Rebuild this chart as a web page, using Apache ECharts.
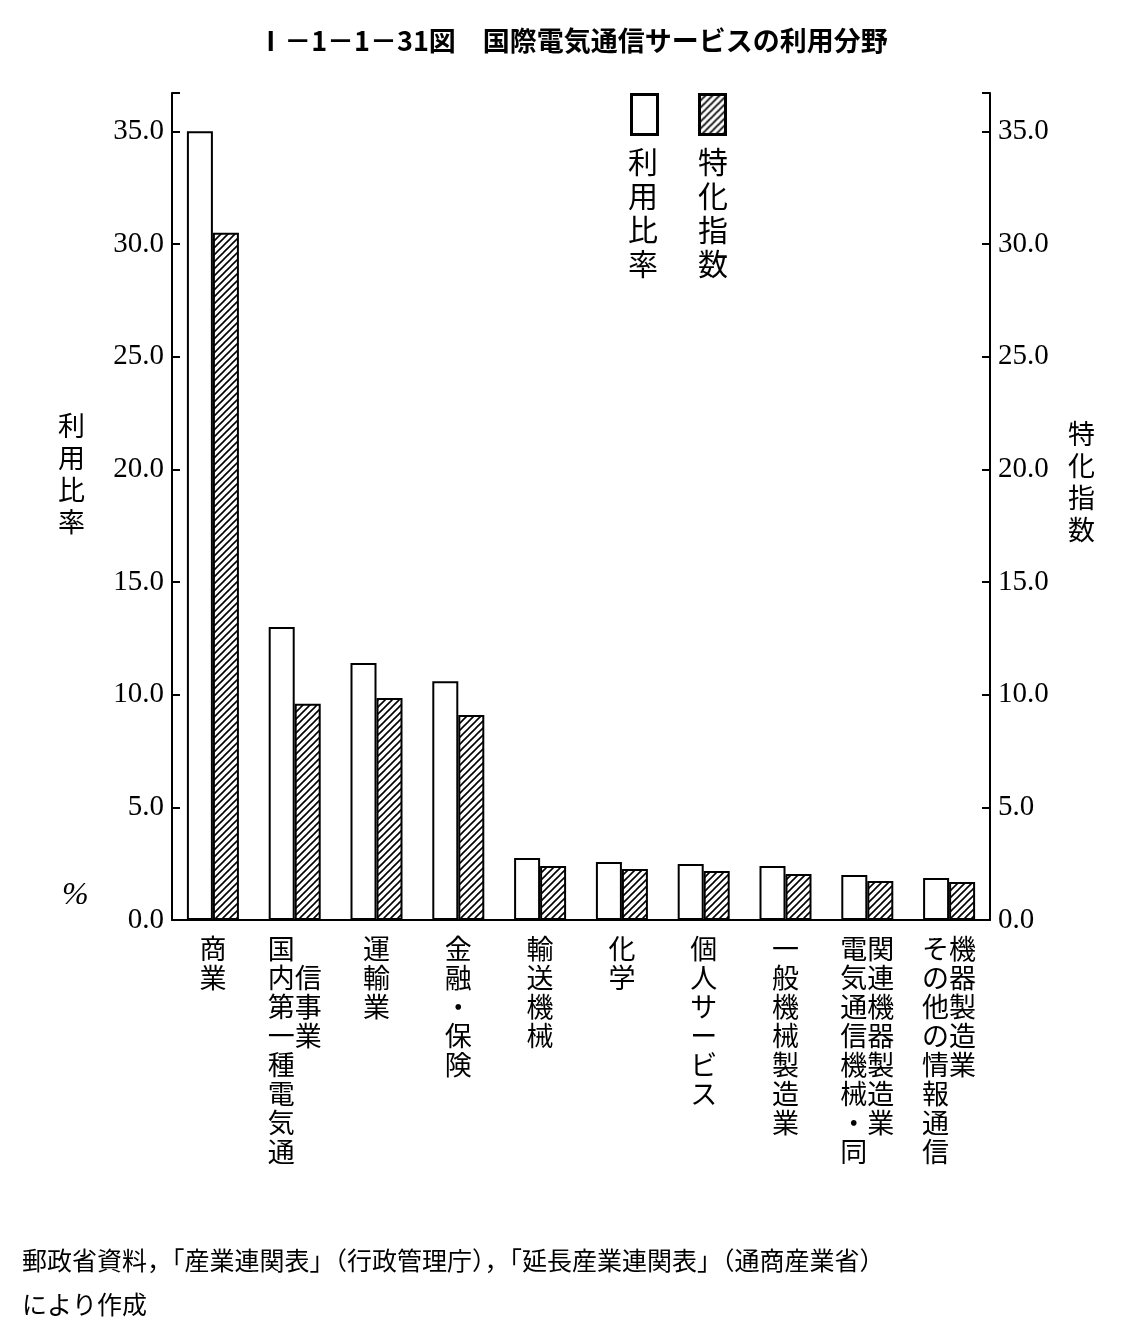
<!DOCTYPE html>
<html><head><meta charset="utf-8">
<script src="https://cdn.jsdelivr.net/npm/echarts@6/dist/echarts.min.js"></script>
<style>body{margin:0;background:#fff}#chart{width:1145px;height:1341px}</style>
</head><body><div id="chart"></div>
<script>
// categories, each split into vertical columns
var categoryCols = [
  ['商業'],
  ['国内第一種電気通', '　信事業'],
  ['運輸業'],
  ['金融・保険'],
  ['輸送機械'],
  ['化学'],
  ['個人サービス'],
  ['一般機械製造業'],
  ['電気通信機械・同', '関連機器製造業'],
  ['その他の情報通信', '機器製造業']
];
var useRate = [35.0, 13.0, 11.4, 10.6, 2.75, 2.57, 2.48, 2.4, 2.0, 1.86];
var specIndex = [30.5, 9.6, 9.85, 9.1, 2.4, 2.26, 2.17, 2.04, 1.73, 1.69];
var tickLabels = ['0.0', '5.0', '10.0', '15.0', '20.0', '25.0', '30.0', '35.0'];

function vertical(cols) {
  var n = Math.max.apply(null, cols.map(function (c) { return c.length; }));
  var lines = [];
  for (var i = 0; i < n; i++) {
    lines.push(cols.map(function (c) { return c[i] || '　'; }).join(''));
  }
  return lines.join('\n');
}

// diagonal hatch pattern
function hatch() {
  var c = document.createElement('canvas'); c.width = 7; c.height = 7;
  var g = c.getContext('2d'); g.fillStyle = '#fff'; g.fillRect(0, 0, 7, 7);
  g.strokeStyle = '#000'; g.lineWidth = 1.6;
  g.beginPath(); g.moveTo(-1, 8); g.lineTo(8, -1); g.moveTo(-1, 1); g.lineTo(1, -1); g.moveTo(6, 8); g.lineTo(8, 6); g.stroke();
  return c;
}
var hatchPattern = hatch();

var font = '"Noto Sans CJK JP", serif';
var chart = echarts.init(document.getElementById('chart'));
var yAxisBase = {
  type: 'value', min: 0, max: 36.7, interval: 5,
  axisLine: {show: true, lineStyle: {color: '#000', width: 2}},
  axisTick: {show: true, inside: true, length: 8, lineStyle: {color: '#000', width: 2}},
  splitLine: {show: false},
  axisLabel: {color: '#000', fontSize: 29, fontFamily: 'Liberation Serif', formatter: function (v) { return tickLabels[v / 5]; }}
};
chart.setOption({
  animation: false,
  title: {
    text: 'Ⅰ－1－1－31図　国際電気通信サービスの利用分野',
    left: 'center', top: 22,
    textStyle: {fontSize: 27, fontWeight: 'bold', color: '#000', fontFamily: font}
  },
  grid: {left: 172, right: 155, top: 93, bottom: 421},
  xAxis: {
    type: 'category',
    data: categoryCols.map(vertical),
    axisLine: {lineStyle: {color: '#000', width: 2}},
    axisTick: {show: false},
    axisLabel: {color: '#000', fontSize: 27, lineHeight: 29, fontFamily: font, verticalAlign: 'top', interval: 0, margin: 14}
  },
  yAxis: [yAxisBase, Object.assign({}, yAxisBase, {position: 'right'})],
  series: [
    {
      name: '利用比率', type: 'bar', data: useRate, barWidth: 26, barGap: '0%',
      itemStyle: {color: '#fff', borderColor: '#000', borderWidth: 2}
    },
    {
      name: '特化指数', type: 'bar', data: specIndex, barWidth: 26,
      itemStyle: {color: {image: hatchPattern, repeat: 'repeat'}, borderColor: '#000', borderWidth: 2}
    }
  ],
  graphic: [
    {type: 'rect', left: 630, top: 93, shape: {width: 26, height: 40}, style: {fill: '#fff', stroke: '#000', lineWidth: 3}},
    {type: 'rect', left: 698, top: 93, shape: {width: 26, height: 40}, style: {fill: {image: hatchPattern, repeat: 'repeat'}, stroke: '#000', lineWidth: 3}},
    {type: 'text', left: 628, top: 145, style: {text: '利\n用\n比\n率', fontSize: 30, lineHeight: 34, fontFamily: font, fill: '#000'}},
    {type: 'text', left: 698, top: 145, style: {text: '特\n化\n指\n数', fontSize: 30, lineHeight: 34, fontFamily: font, fill: '#000'}},
    {type: 'text', left: 58, top: 410, style: {text: '利\n用\n比\n率', fontSize: 27, lineHeight: 32, fontFamily: font, fill: '#000'}},
    {type: 'text', left: 62, top: 880, style: {text: '%', fontSize: 32, fontFamily: 'Liberation Serif', fontStyle: 'italic', fill: '#000'}},
    {type: 'text', left: 1068, top: 418, style: {text: '特\n化\n指\n数', fontSize: 27, lineHeight: 32, fontFamily: font, fill: '#000'}},
    {type: 'text', left: 22, top: 1238, style: {text: '郵政省資料，「産業連関表」（行政管理庁），「延長産業連関表」（通商産業省）\nにより作成', fontSize: 25, lineHeight: 44, fontFamily: font, fill: '#000'}}
  ]
});
</script>
</body></html>
